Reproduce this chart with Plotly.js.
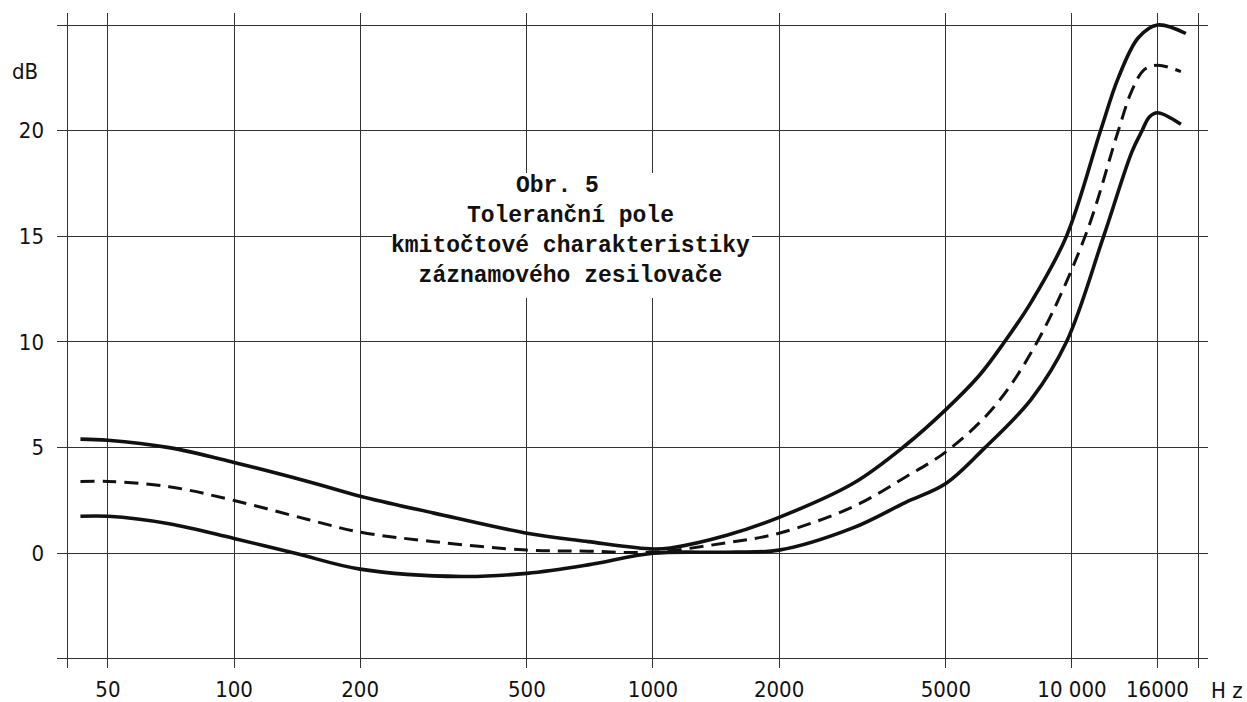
<!DOCTYPE html>
<html>
<head>
<meta charset="utf-8">
<script src="https://cdn.plot.ly/plotly-3.0.1.min.js"></script>
<style>
  html, body { margin: 0; padding: 0; background: #fff; }
  #chart { width: 1247px; height: 702px; }
</style>
</head>
<body>
<div id="chart"></div>
<script>
// ---- data (frequency in Hz, level in dB) ----
const freqUpper = [43, 50, 70, 100, 150, 200, 300, 500, 700, 1000, 1100, 1500, 2000, 3000, 4000, 5000, 6000, 6900, 8000, 9700, 11700, 12900, 14400, 16000, 18700];
const dbUpper   = [5.4, 5.35, 5.0, 4.3, 3.4, 2.7, 1.9, 0.95, 0.55, 0.2, 0.25, 0.85, 1.7, 3.3, 5.1, 6.8, 8.4, 10, 11.9, 15, 20, 22.5, 24.4, 25.0, 24.6];

const freqMid = [43, 50, 70, 100, 150, 200, 300, 500, 700, 1000, 1500, 2000, 3000, 4000, 5000, 6500, 8260, 10750, 12900, 13900, 14900, 16000, 18200];
const dbMid   = [3.4, 3.4, 3.15, 2.5, 1.6, 1.0, 0.55, 0.15, 0.1, 0.05, 0.5, 0.95, 2.2, 3.6, 4.8, 6.9, 10, 15, 20, 21.9, 22.9, 23.1, 22.8];

const freqLow = [43, 50, 70, 100, 140, 200, 350, 500, 700, 1000, 1500, 2000, 3000, 4000, 5000, 6200, 8000, 9700, 11900, 13900, 14700, 15300, 16000, 18200];
const dbLow   = [1.75, 1.75, 1.4, 0.7, 0, -0.75, -1.1, -0.95, -0.55, 0, 0.05, 0.15, 1.2, 2.4, 3.3, 5, 7.3, 10, 15, 19.0, 20, 20.65, 20.85, 20.3];

const xTickVals = [40, 50, 100, 200, 500, 1000, 2000, 5000, 10000, 16000, 20000];
const xTickText = ['', '50', '100', '200', '500', '1000', '2000', '5000', '10 000', '16000', ''];
const yTickVals = [-5, 0, 5, 10, 15, 20, 25];
const yTickText = ['', '0', '5', '10', '15', '20', ''];

const figLabel = 'Obr. 5';
const captionLines = ['Toleranční pole', 'kmitočtové charakteristiky', 'záznamového zesilovače'];

// ---- layout helpers (pixel -> paper) ----
const W = 1247, H = 702;
const M = { l: 57, r: 39, t: 13, b: 34 };
const PW = W - M.l - M.r, PH = H - M.t - M.b;
const px = x => (x - M.l) / PW;
const py = y => (H - M.b - y) / PH;

const lineCol = '#111';
const traces = [
  { x: freqUpper, y: dbUpper, mode: 'lines', line: { color: lineCol, width: 3.6, shape: 'spline', smoothing: 1 }, hoverinfo: 'skip' },
  { x: freqMid,   y: dbMid,   mode: 'lines', line: { color: lineCol, width: 3, shape: 'spline', smoothing: 1, dash: '14px,8px' }, hoverinfo: 'skip' },
  { x: freqLow,   y: dbLow,   mode: 'lines', line: { color: lineCol, width: 3.6, shape: 'spline', smoothing: 1 }, hoverinfo: 'skip' }
];

const tickFont = { family: 'Liberation Sans Narrow, DejaVu Sans Condensed, Liberation Sans, sans-serif', size: 22, color: '#111' };
const textFont = { family: 'Liberation Mono, DejaVu Sans Mono, monospace', size: 23, color: '#111', weight: 'bold' };

const annotations = [
  { xref: 'paper', yref: 'paper', x: px(557), y: py(186), xanchor: 'center', yanchor: 'middle',
    showarrow: false, text: figLabel, font: textFont },
  { xref: 'paper', yref: 'paper', x: px(570), y: py(246), xanchor: 'center', yanchor: 'middle',
    showarrow: false, align: 'center', text: captionLines.join('<br>'), font: textFont },
  { xref: 'paper', yref: 'paper', x: px(25), y: py(72), xanchor: 'center', yanchor: 'middle',
    showarrow: false, text: 'dB', font: tickFont },
  { xref: 'paper', yref: 'paper', x: px(1227), y: py(690), xanchor: 'center', yanchor: 'middle',
    showarrow: false, text: 'H z', font: tickFont }
];

const layout = {
  width: W, height: H,
  margin: M,
  paper_bgcolor: '#fff', plot_bgcolor: '#fff',
  showlegend: false,
  xaxis: {
    type: 'log',
    range: [Math.log10(37.8), Math.log10(21120)],
    tickvals: xTickVals, ticktext: xTickText,
    showgrid: true, gridcolor: '#333', gridwidth: 1,
    zeroline: false, showline: false, ticks: '',
    ticklabelstandoff: 6,
    tickfont: tickFont
  },
  yaxis: {
    range: [-5.43, 25.57],
    tickvals: yTickVals, ticktext: yTickText,
    showgrid: true, gridcolor: '#333', gridwidth: 1,
    zeroline: false, showline: false, ticks: '',
    ticklabelstandoff: 12,
    tickfont: tickFont
  },
  shapes: [
    { type: 'rect', xref: 'paper', yref: 'paper', x0: px(392), x1: px(752), y0: py(298), y1: py(173),
      fillcolor: '#fff', line: { width: 0 }, layer: 'above' }
  ],
  annotations: annotations
};

Plotly.newPlot('chart', traces, layout, { staticPlot: true, displayModeBar: false });
</script>
</body>
</html>
